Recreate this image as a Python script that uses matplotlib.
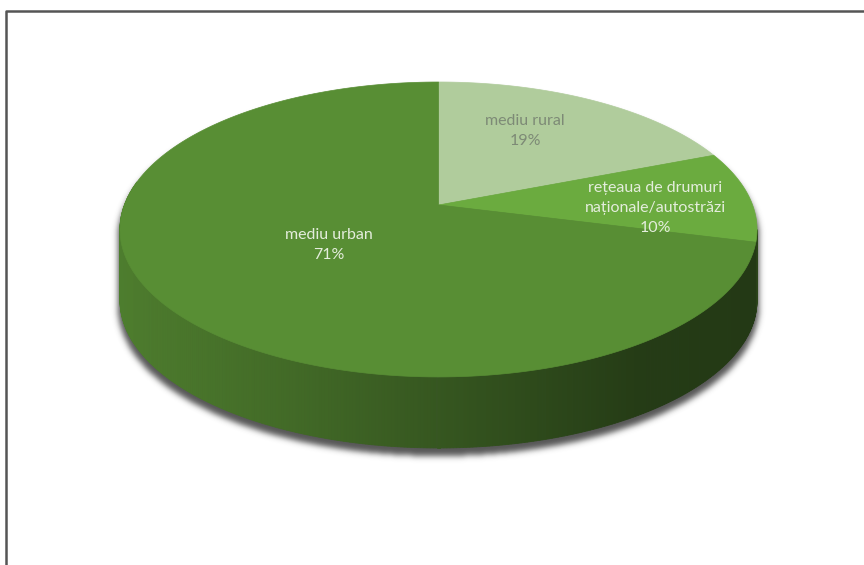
import numpy as np
import matplotlib
matplotlib.use("Agg")
import matplotlib.pyplot as plt
from matplotlib.patches import Polygon

# data (shares in %, clockwise from 12 o'clock)
labels = ["mediu rural", "rețeaua de drumuri\nnaționale/autostrăzi", "mediu urban"]
shares = [19, 10, 71]
colors = ["#B0CC9C", "#6BAB3F", "#588E34"]
label_colors = ["#7D8A76", "#E4EDDC", "#E4EDDC"]
label_xy = [(525, 131), (655, 208), (329, 245)]

W, H = 864, 565
CX, CY = 438.5, 205.0           # slice vertex on top face (pixels)
A, B, K = 314.1, 143.4, 0.166   # perspective of the top disc
DEPTH = 71


def rim(theta, r=1.0):
    u, v = r * np.cos(theta), r * np.sin(theta)
    d = 1 + K * v
    return CX + A * u / d, CY - B * v / d


def shade(x):
    return np.interp(x, [120, 300, 450, 640, 760], [0.88, 0.74, 0.6, 0.42, 0.40])


def shadow_image():
    yy, xx = np.mgrid[0:H, 0:W] + 0.5
    ex, ey, ea, eb = 438.5, 229.5 + 7, 318.5 + 2, 147.5 + 1
    top = ((xx - ex) / ea) ** 2 + ((yy - ey) / eb) ** 2 <= 1
    bot = ((xx - ex) / ea) ** 2 + ((yy - ey - DEPTH) / eb) ** 2 <= 1
    mid = (np.abs(xx - ex) <= ea) & (yy >= ey) & (yy <= ey + DEPTH)
    mask = (top | bot | mid).astype(float)
    s = 3.0
    t = np.arange(-10, 11)
    k = np.exp(-t ** 2 / (2 * s * s))
    k /= k.sum()
    mask = np.apply_along_axis(lambda r: np.convolve(r, k, mode="same"), 1, mask)
    mask = np.apply_along_axis(lambda c: np.convolve(c, k, mode="same"), 0, mask)
    img = np.zeros((H, W, 4))
    img[..., :3] = 0.22
    img[..., 3] = mask * 0.85
    return img


def main():
    fig = plt.figure(figsize=(W / 100, H / 100), dpi=100)
    ax = fig.add_axes([0, 0, 1, 1])
    ax.set_xlim(0, W)
    ax.set_ylim(H, 0)
    ax.axis("off")

    # frame
    ax.plot([5.5, 5.5, W], [H, 10.5, 10.5], color="#555555", lw=1.8, solid_capstyle="butt")

    ax.imshow(shadow_image(), extent=(0, W, H, 0), aspect="auto", zorder=1, interpolation="bilinear")

    total = float(sum(shares))
    bounds = [np.pi / 2]
    for s in shares:
        bounds.append(bounds[-1] - 2 * np.pi * s / total)

    # visible front arc of the side wall
    front_hi = -np.arcsin(K)
    front_lo = -np.pi - np.arcsin(K)

    for i, c in enumerate(colors):
        a0, a1 = bounds[i], bounds[i + 1]
        hi, lo = min(a0, front_hi), max(a1, front_lo)
        if hi > lo:
            th = np.linspace(hi, lo, int((hi - lo) / np.radians(0.5)) + 2)
            base = np.array(matplotlib.colors.to_rgb(c))
            for j in range(len(th) - 1):
                x0, y0 = rim(th[j])
                x1, y1 = rim(th[j + 1])
                col = np.clip(base * shade((x0 + x1) / 2), 0, 1)
                quad = [(x0, y0), (x1, y1), (x1, y1 + DEPTH), (x0, y0 + DEPTH)]
                ax.add_patch(Polygon(quad, closed=True, facecolor=col, edgecolor=col, lw=0.6, zorder=2))

    for i, c in enumerate(colors):
        th = np.linspace(bounds[i], bounds[i + 1], 200)
        xs, ys = rim(th)
        pts = [(CX, CY)] + list(zip(xs, ys))
        ax.add_patch(Polygon(pts, closed=True, facecolor=c, edgecolor=c, lw=0.5, zorder=3))

    for i, lab in enumerate(labels):
        x, y = label_xy[i]
        ax.text(x, y, f"{lab}\n{shares[i]}%", ha="center", va="center", color=label_colors[i],
                fontsize=11.5, family=["Lato", "DejaVu Sans"], linespacing=1.58, zorder=4)

    fig.savefig("out.png", dpi=100)


if __name__ == "__main__":
    main()
